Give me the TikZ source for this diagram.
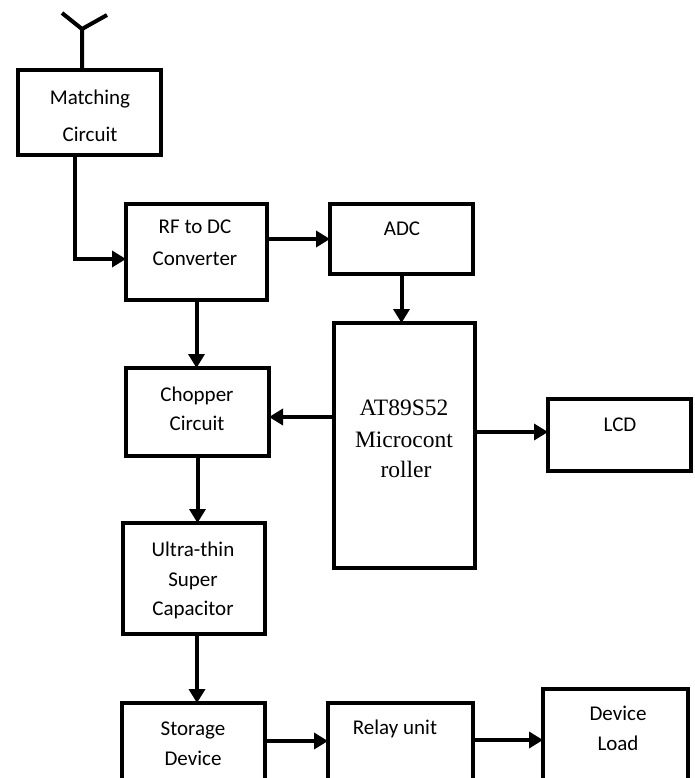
\documentclass[tikz,border=0pt]{standalone}
\usepackage{fontspec}
\setmainfont{Carlito}
\newfontfamily\timesfont{Liberation Serif}
\usetikzlibrary{arrows.meta}
\begin{document}
\begin{tikzpicture}[x=1pt,y=-1pt,
  blk/.style={draw, line width=4pt, inner sep=0pt, outer sep=0pt, line join=miter},
  lbl/.style={anchor=base, inner sep=0pt, font=\fontsize{21}{25}\selectfont},
  mlbl/.style={anchor=base, inner sep=0pt, font=\timesfont\fontsize{23.5}{28}\selectfont},
  wire/.style={line width=4pt, line join=miter},
  arr/.style={line width=4pt, line join=miter, -{Triangle[length=14pt,width=16pt]}}]
\useasboundingbox (0,0) rectangle (695,778);
\clip (0,0) rectangle (695,778);
\fill[white] (0,0) rectangle (695,778);

% boxes
\node[blk, minimum width=143pt, minimum height=85pt] (match) at (89.5,112.5) {};
\node[blk, minimum width=141pt, minimum height=96pt] (rf) at (196.5,252) {};
\node[blk, minimum width=143pt, minimum height=70pt] (adc) at (401.5,239) {};
\node[blk, minimum width=141pt, minimum height=245pt] (mcu) at (404.5,445.5) {};
\node[blk, minimum width=143pt, minimum height=72pt] (lcd) at (619.5,435) {};
\node[blk, minimum width=143pt, minimum height=88pt] (chop) at (197.5,412) {};
\node[blk, minimum width=142pt, minimum height=111pt] (ultra) at (194,578.5) {};
\node[blk, minimum width=143pt, minimum height=97pt] (stor) at (193.5,751.5) {};
\node[blk, minimum width=145pt, minimum height=97pt] (relay) at (400.5,751.5) {};
\node[blk, minimum width=145pt, minimum height=111pt] (load) at (615.5,744.5) {};

% labels
\node[lbl] (t1) at (90,105) {Matching};
\node[lbl] (t2) at (90,142) {Circuit};
\node[lbl] (t3) at (195,233) {RF to DC};
\node[lbl] (t4) at (195,265) {Converter};
\node[lbl] (t5) at (402,235) {ADC};
\node[mlbl] (t6) at (404,415) {AT89S52};
\node[mlbl] (t7) at (404,447) {Microcont};
\node[mlbl] (t8) at (406,477) {roller};
\node[lbl] (t9) at (620,431) {LCD};
\node[lbl] (t10) at (197,401) {Chopper};
\node[lbl] (t11) at (197,430) {Circuit};
\node[lbl] (t12) at (193,556) {Ultra-thin};
\node[lbl] (t13) at (193,586) {Super};
\node[lbl] (t14) at (193,615) {Capacitor};
\node[lbl] (t15) at (193,735) {Storage};
\node[lbl] (t16) at (193,765) {Device};
\node[lbl] (t17) at (395,734) {Relay unit};
\node[lbl] (t18) at (618,720) {Device};
\node[lbl] (t19) at (618,750) {Load};

% antenna
\coordinate (aj) at (82,29);
\coordinate (al) at (62,13);
\coordinate (ar) at (107,15);
\draw[wire] (match.north -| aj) -- (aj) -- (al);
\draw[wire] (aj) -- (ar);

% connectors
\coordinate (cm) at (75,259);
\draw[arr] (match.south -| cm) -- (cm) -- (rf.west |- cm);
\draw[arr] (rf.east |- adc.west) -- (adc.west);
\draw[arr] (adc.south) -- (adc.south |- mcu.north);
\draw[arr] (rf.south) -- (rf.south |- chop.north);
\coordinate (cc) at (0,417);
\draw[arr] (mcu.west |- cc) -- (chop.east |- cc);
\coordinate (cl) at (0,432);
\draw[arr] (mcu.east |- cl) -- (lcd.west |- cl);
\draw[arr] (chop.south) -- (chop.south |- ultra.north);
\coordinate (cu) at (197,0);
\draw[arr] (ultra.south -| cu) -- (stor.north -| cu);
\coordinate (cs) at (0,741);
\draw[arr] (stor.east |- cs) -- (relay.west |- cs);
\coordinate (cr) at (0,740);
\draw[arr] (relay.east |- cr) -- (load.west |- cr);
\end{tikzpicture}
\end{document}
